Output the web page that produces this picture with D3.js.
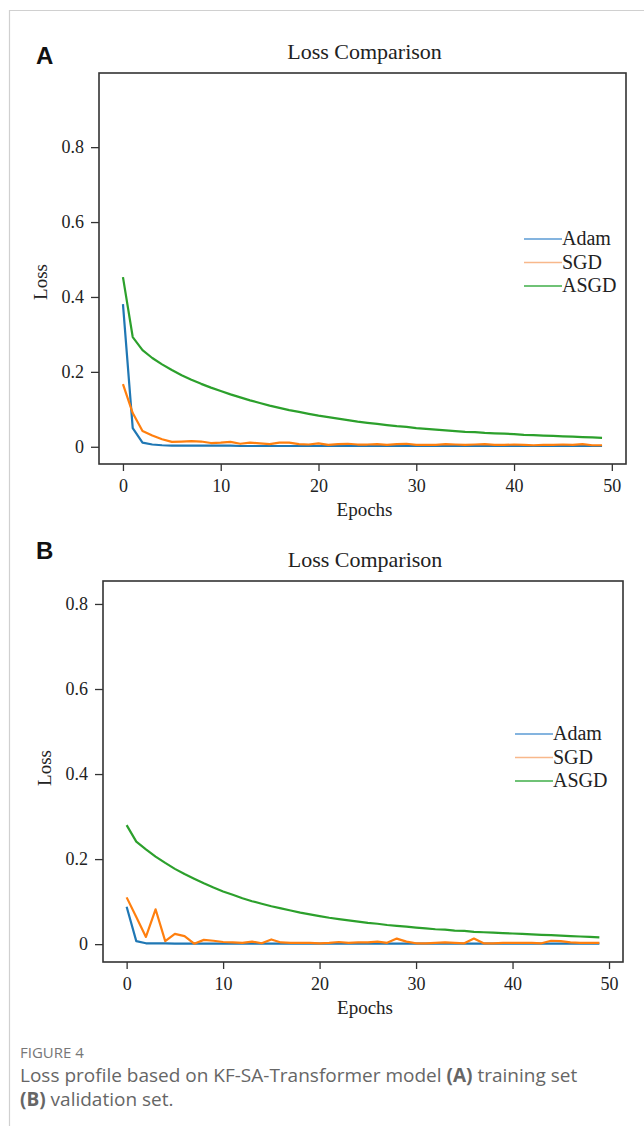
<!DOCTYPE html>
<html>
<head>
<meta charset="utf-8">
<script src="https://cdn.jsdelivr.net/npm/d3@7"></script>
<style>
  body { margin: 0; background: #fff; }
  .tick text { font-family: "Liberation Serif", "Times New Roman", serif; font-size: 18px; fill: #222; }
</style>
</head>
<body>
<div id="container"></div>
<script>
// epochs 0..49
let epochs = d3.range(50);
let seriesNames = ["Adam", "SGD", "ASGD"];
let xTicks = [0, 10, 20, 30, 40, 50];
let yTicks = [0, 0.2, 0.4, 0.6, 0.8];
let yTickLabels = ["0", "0.2", "0.4", "0.6", "0.8"];

// (A) training set
let adamTrain = [0.381, 0.050, 0.011, 0.006, 0.004, 0.003, 0.003, 0.003, 0.003, 0.003,
  0.003, 0.003, 0.002, 0.002, 0.002, 0.002, 0.002, 0.002, 0.002, 0.002,
  0.002, 0.002, 0.002, 0.002, 0.002, 0.002, 0.002, 0.002, 0.002, 0.002,
  0.002, 0.002, 0.002, 0.002, 0.002, 0.002, 0.002, 0.002, 0.002, 0.002,
  0.002, 0.002, 0.002, 0.002, 0.002, 0.002, 0.002, 0.002, 0.002, 0.002];
let sgdTrain = [0.167, 0.090, 0.042, 0.030, 0.020, 0.013, 0.014, 0.015, 0.014, 0.010,
  0.011, 0.013, 0.008, 0.011, 0.009, 0.007, 0.011, 0.011, 0.007, 0.006,
  0.009, 0.005, 0.007, 0.008, 0.006, 0.006, 0.007, 0.005, 0.007, 0.008,
  0.005, 0.005, 0.005, 0.007, 0.006, 0.005, 0.006, 0.007, 0.005, 0.005,
  0.006, 0.005, 0.004, 0.005, 0.005, 0.006, 0.005, 0.007, 0.004, 0.004];
let asgdTrain = [0.453, 0.293, 0.258, 0.237, 0.220, 0.205, 0.191, 0.179, 0.168, 0.158,
  0.149, 0.140, 0.132, 0.124, 0.117, 0.110, 0.104, 0.098, 0.093, 0.088,
  0.083, 0.079, 0.075, 0.071, 0.067, 0.064, 0.061, 0.058, 0.055, 0.053,
  0.050, 0.048, 0.046, 0.044, 0.042, 0.040, 0.039, 0.037, 0.036, 0.035,
  0.034, 0.032, 0.031, 0.030, 0.029, 0.028, 0.027, 0.026, 0.025, 0.024];

// (B) validation set
let adamVal = [0.088, 0.007, 0.002, 0.002, 0.002, 0.001, 0.001, 0.001, 0.001, 0.001,
  0.001, 0.001, 0.001, 0.001, 0.001, 0.001, 0.001, 0.001, 0.001, 0.001,
  0.001, 0.001, 0.001, 0.001, 0.001, 0.001, 0.001, 0.001, 0.001, 0.001,
  0.001, 0.001, 0.001, 0.001, 0.001, 0.001, 0.001, 0.001, 0.001, 0.001,
  0.001, 0.001, 0.001, 0.001, 0.001, 0.001, 0.001, 0.001, 0.001, 0.001];
let sgdVal = [0.110, 0.064, 0.017, 0.082, 0.007, 0.024, 0.019, 0.001, 0.010, 0.008,
  0.005, 0.004, 0.003, 0.006, 0.002, 0.011, 0.004, 0.003, 0.003, 0.003,
  0.002, 0.003, 0.005, 0.003, 0.004, 0.004, 0.006, 0.003, 0.013, 0.006,
  0.002, 0.002, 0.003, 0.004, 0.003, 0.002, 0.013, 0.002, 0.002, 0.003,
  0.003, 0.003, 0.003, 0.002, 0.008, 0.007, 0.004, 0.003, 0.003, 0.003];
let asgdVal = [0.280, 0.241, 0.223, 0.206, 0.191, 0.177, 0.165, 0.154, 0.143, 0.133,
  0.124, 0.116, 0.108, 0.101, 0.095, 0.089, 0.084, 0.079, 0.074, 0.070,
  0.066, 0.062, 0.059, 0.056, 0.053, 0.050, 0.048, 0.045, 0.043, 0.041,
  0.039, 0.037, 0.035, 0.034, 0.032, 0.031, 0.029, 0.028, 0.027, 0.026,
  0.025, 0.024, 0.023, 0.022, 0.021, 0.020, 0.019, 0.018, 0.017, 0.016];

let lineColors = ["#1f77b4", "#ff7f0e", "#2ca02c"];
let legendColors = ["#5b9bd5", "#f8b88b", "#3fae49"];

let w = 644;
let h = 1126;
let svg = d3.select("#container")
  .append("svg")
    .attr("width", w)
    .attr("height", h)
    .style("display", "block")
;

// page border lines
svg.append("line").attr("x1", 9.5).attr("x2", 9.5).attr("y1", 10).attr("y2", h)
  .attr("stroke", "#d0d0d0").attr("stroke-width", 1.2);
svg.append("line").attr("x1", 9.5).attr("x2", w).attr("y1", 10.5).attr("y2", 10.5)
  .attr("stroke", "#d0d0d0").attr("stroke-width", 1.2);

let serif = "'Liberation Serif', 'Times New Roman', serif";

function drawPanel(p) {
  let x = d3.scaleLinear().domain([-2.45, 51.45]).range([p.left, p.right]);
  let y = d3.scaleLinear().domain(p.yDomain).range([p.bottom, p.top]);

  let g = svg.append("g");

  // panel letter
  g.append("text")
    .attr("x", p.letterX).attr("y", p.letterY)
    .attr("font-family", "'Liberation Sans', Arial, sans-serif")
    .attr("font-weight", "bold")
    .attr("font-size", 24)
    .attr("fill", "#111")
    .text(p.letter);

  // title
  g.append("text")
    .attr("x", (p.left + p.right) / 2 + 2).attr("y", p.top - 14)
    .attr("text-anchor", "middle")
    .attr("font-family", serif)
    .attr("font-size", 22)
    .attr("fill", "#222")
    .text("Loss Comparison");

  // axes
  let xAxis = d3.axisBottom(x).tickValues(xTicks).tickSize(7).tickPadding(8).tickFormat(d3.format("d"));
  let yAxis = d3.axisLeft(y).tickValues(yTicks).tickSize(8).tickPadding(7)
    .tickFormat(function(d, i) { return yTickLabels[i]; });

  g.append("g").attr("transform", "translate(0," + p.bottom + ")").call(xAxis)
    .call(function(s) { s.select(".domain").remove(); })
    .selectAll("line").attr("stroke", "#333").attr("stroke-width", 1.3);
  g.append("g").attr("transform", "translate(" + p.left + ",0)").call(yAxis)
    .call(function(s) { s.select(".domain").remove(); })
    .selectAll("line").attr("stroke", "#333").attr("stroke-width", 1.3);

  // frame
  g.append("rect")
    .attr("x", p.left).attr("y", p.top)
    .attr("width", p.right - p.left).attr("height", p.bottom - p.top)
    .attr("fill", "none").attr("stroke", "#333").attr("stroke-width", 1.6);

  // axis labels
  g.append("text")
    .attr("x", (p.left + p.right) / 2 + 2).attr("y", p.bottom + 52)
    .attr("text-anchor", "middle")
    .attr("font-family", serif).attr("font-size", 19).attr("fill", "#222")
    .text("Epochs");
  g.append("text")
    .attr("transform", "translate(" + (p.left - 52) + "," + p.lossY + ") rotate(-90)")
    .attr("text-anchor", "middle")
    .attr("font-family", serif).attr("font-size", 19).attr("fill", "#222")
    .text("Loss");

  // lines
  let line = d3.line()
    .x(function(d, i) { return x(epochs[i]); })
    .y(function(d) { return y(d); });

  p.series.forEach(function(s, i) {
    g.append("path")
      .datum(s)
      .attr("d", line)
      .attr("fill", "none")
      .attr("stroke", lineColors[i])
      .attr("stroke-width", 2.2)
      .attr("stroke-linejoin", "round");
  });

  // legend
  let lg = g.append("g").attr("transform", "translate(" + p.legendX + "," + p.legendY + ")");
  seriesNames.forEach(function(name, i) {
    lg.append("line")
      .attr("x1", 0).attr("x2", 38)
      .attr("y1", i * 23.5).attr("y2", i * 23.5)
      .attr("stroke", legendColors[i]).attr("stroke-width", 1.6);
    lg.append("text")
      .attr("x", 38).attr("y", i * 23.5 + 6)
      .attr("font-family", serif).attr("font-size", 20).attr("fill", "#222")
      .text(name);
  });
}

drawPanel({
  letter: "A", letterX: 36, letterY: 64,
  left: 99, right: 626, top: 73, bottom: 464,
  yDomain: [-0.046, 0.998],
  lossY: 282,
  legendX: 524, legendY: 239,
  series: [adamTrain, sgdTrain, asgdTrain]
});

drawPanel({
  letter: "B", letterX: 36, letterY: 559,
  left: 103, right: 623, top: 581, bottom: 962,
  yDomain: [-0.042, 0.854],
  lossY: 768,
  legendX: 515, legendY: 734,
  series: [adamVal, sgdVal, asgdVal]
});

// caption
let cap = svg.append("g").attr("font-family", "'Open Sans', 'Noto Sans', sans-serif").attr("fill", "#666");
cap.append("text").attr("x", 20).attr("y", 1058)
  .attr("font-size", 15).attr("fill", "#777")
  .text("FIGURE 4");
let l1 = cap.append("text").attr("x", 20).attr("y", 1082).attr("font-size", 19).attr("fill", "#666");
l1.append("tspan").text("Loss profile based on KF-SA-Transformer model ");
l1.append("tspan").attr("font-weight", "bold").text("(A)");
l1.append("tspan").text(" training set");
let l2 = cap.append("text").attr("x", 20).attr("y", 1106).attr("font-size", 19).attr("fill", "#666");
l2.append("tspan").attr("font-weight", "bold").text("(B)");
l2.append("tspan").text(" validation set.");
</script>
</body>
</html>
